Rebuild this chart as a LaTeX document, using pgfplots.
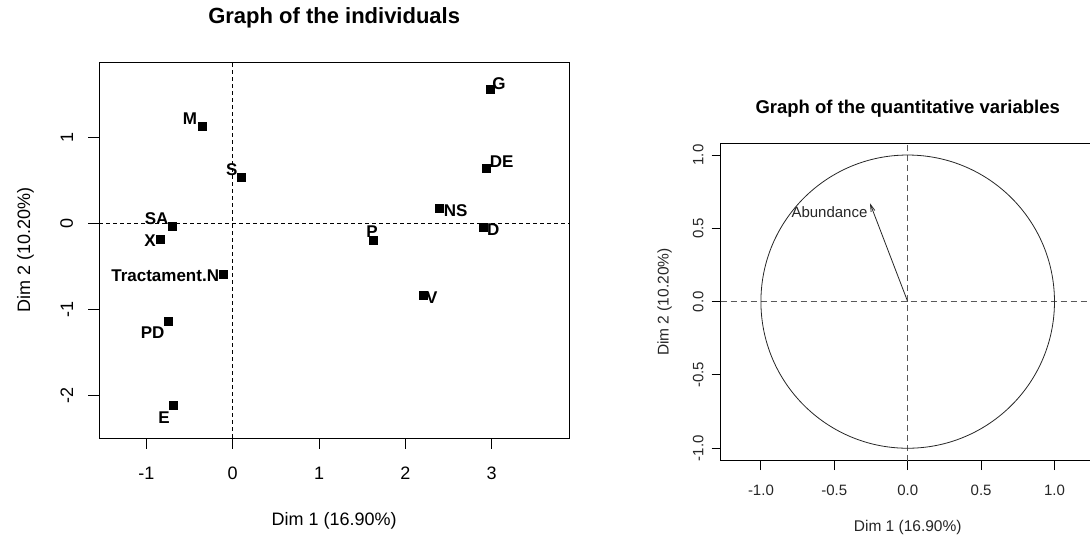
\documentclass[border=0pt]{standalone}
\usepackage{fontspec}
\setmainfont{Liberation Sans}
\usepackage{pgfplots}
\usepackage{pgfplotstable}
\pgfplotsset{compat=1.18}
\usetikzlibrary{arrows.meta}

\pgfplotstableread{
x y dx dy label
-0.356 1.128 -12 7 M
0.093 0.533 -9 7.3 S
-0.700 -0.028 -15.6 6.7 SA
-0.846 -0.182 -9.7 -1.7 X
-0.116 -0.587 -57.5 -1.7 Tractament.N
1.626 -0.190 -1 8 P
-0.742 -1.132 -16 -11.7 PD
-0.684 -2.113 -9.7 -11.7 E
2.978 1.553 9.3 6 G
2.943 0.644 15 6 DE
2.390 0.177 16.7 -2.7 NS
2.904 -0.046 10 -2 D
2.213 -0.834 8 -2.4 V
}\indiv

\begin{document}
\begin{tikzpicture}
\pgfplotsset{every axis title shift=0pt}
\begin{axis}[
  at={(99.3bp,98bp)}, anchor=south west, scale only axis,
  width=469.7bp, height=375.7bp,
  xmin=-1.546, xmax=3.897, ymin=-2.488, ymax=1.866,
  axis line style={line width=1bp},
  xtick={-1,0,1,2,3}, ytick={-2,-1,0,1},
  xticklabels={-1,0,1,2,3}, yticklabels={-2,-1,0,1},
  tick align=outside, xtick pos=left, ytick pos=left,
  major tick length=11bp, tick style={line width=1bp, black},
  ticklabel style={font=\fontsize{18bp}{20bp}\selectfont},
  xticklabel style={anchor=north, inner sep=0pt},
  yticklabel style={rotate=90, anchor=south, inner sep=0pt},
  xticklabel shift=18bp, yticklabel shift=15bp,
  title={Graph of the individuals},
  title style={at={([yshift=39bp]axis description cs:0.5,1)}, anchor=base, font=\bfseries\fontsize{22bp}{24bp}\selectfont},
  xlabel={Dim 1 (16.90\%)},
  xlabel style={at={([yshift=-87bp]axis description cs:0.5,0)}, anchor=base, font=\fontsize{18bp}{20bp}\selectfont},
  ylabel={Dim 2 (10.20\%)},
  ylabel style={at={([xshift=-69.3bp]axis description cs:0,0.5)}, anchor=base, font=\fontsize{18bp}{20bp}\selectfont},
]
\draw[black, line width=0.8bp, dash pattern=on 4bp off 3bp] (axis cs:0,-2.488) -- (axis cs:0,1.866);
\draw[black, line width=0.8bp, dash pattern=on 4bp off 3bp] (axis cs:-1.546,0) -- (axis cs:3.897,0);
\addplot[only marks, mark=square*, mark size=4bp, black,
  point meta=explicit symbolic,
  visualization depends on={\thisrow{dx} \as \dx},
  visualization depends on={\thisrow{dy} \as \dy},
  nodes near coords,
  nodes near coords style={anchor=center, xshift=\dx*1bp, yshift=\dy*1bp, inner sep=0pt, font=\bfseries\fontsize{17bp}{19bp}\selectfont}]
  table[x=x, y=y, meta=label] {\indiv};
\end{axis}

\begin{axis}[
  at={(720.7bp,75bp)}, anchor=south west, scale only axis,
  width=374bp, height=317.7bp,
  xmin=-1.274, xmax=1.274, ymin=-1.087, ymax=1.080,
  axis line style={line width=1bp},
  xtick={-1,-0.5,0,0.5,1}, ytick={-1,-0.5,0,0.5,1},
  xticklabels={-1.0,-0.5,0.0,0.5,1.0}, yticklabels={-1.0,-0.5,0.0,0.5,1.0},
  tick align=outside, xtick pos=left, ytick pos=left,
  major tick length=9bp, tick style={line width=0.9bp, black},
  ticklabel style={font=\fontsize{15bp}{17bp}\selectfont, text=black!85},
  xticklabel style={anchor=north, inner sep=0pt},
  yticklabel style={rotate=90, anchor=south, inner sep=0pt},
  xticklabel shift=15bp, yticklabel shift=8bp,
  title={Graph of the quantitative variables},
  title style={at={([yshift=29.3bp]axis description cs:0.5,1)}, anchor=base, font=\bfseries\fontsize{18.5bp}{20bp}\selectfont},
  xlabel={Dim 1 (16.90\%)},
  xlabel style={at={([yshift=-70.7bp]axis description cs:0.5,0)}, anchor=base, font=\fontsize{15.5bp}{17bp}\selectfont, text=black!85},
  ylabel={Dim 2 (10.20\%)},
  ylabel style={at={([xshift=-52bp]axis description cs:0,0.5)}, anchor=base, font=\fontsize{15.5bp}{17bp}\selectfont, text=black!85},
]
\draw[black!65, line width=1bp, dash pattern=on 6bp off 4bp] (axis cs:0,-1.087) -- (axis cs:0,1.080);
\draw[black!65, line width=1bp, dash pattern=on 6bp off 4bp] (axis cs:-1.274,0) -- (axis cs:1.274,0);
\draw[black!85, line width=0.8bp] (axis cs:0,0) ellipse [x radius=1, y radius=1];
\addplot[black!85, line width=0.8bp, -{Straight Barb[length=7bp, width=4bp]}] coordinates {(0,0) (-0.257,0.671)};
\addplot[draw=none, mark=none, point meta=explicit symbolic, nodes near coords,
  nodes near coords style={anchor=center, xshift=-40.5bp, yshift=-8.4bp, inner sep=0pt, text=black!85, font=\fontsize{15bp}{17bp}\selectfont}]
  coordinates {(-0.257,0.671) [Abundance]};
\end{axis}
\pgfresetboundingbox
\path[use as bounding box] (0,0) rectangle (1090bp,536bp);
\end{tikzpicture}
\end{document}
